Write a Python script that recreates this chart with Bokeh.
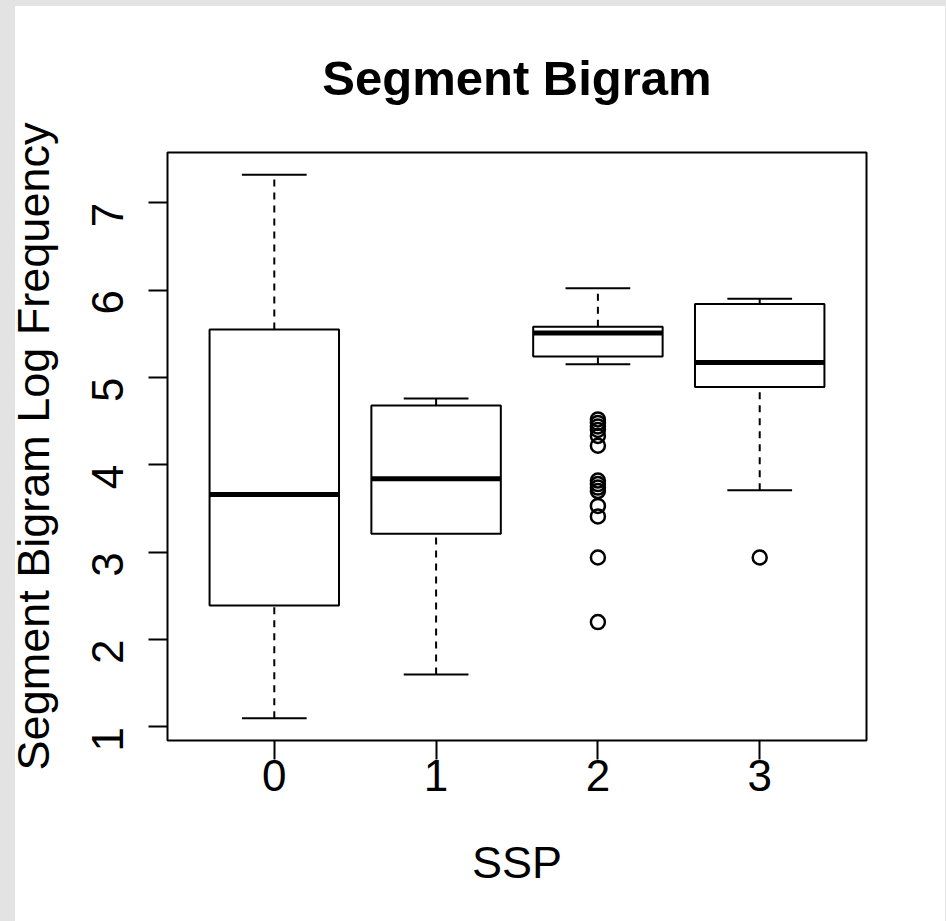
import math
from bokeh.plotting import figure
from bokeh.models import FixedTicker, Range1d
from bokeh.embed import file_html
from bokeh.resources import INLINE

# ---- data ----
groups = ["0", "1", "2", "3"]
positions = [1, 2, 3, 4]
lower_whisker = [1.10, 1.60, 5.15, 3.71]
q1 = [2.39, 3.21, 5.24, 4.89]
median = [3.66, 3.84, 5.51, 5.17]
q3 = [5.55, 4.68, 5.58, 5.84]
upper_whisker = [7.32, 4.76, 6.02, 5.90]
outliers_group2 = [4.52, 4.48, 4.44, 4.40, 4.33, 4.22, 3.82, 3.78, 3.74, 3.70, 3.53, 3.41, 2.94, 2.20]
outliers_group3 = [2.94]
y_ticks = [1, 2, 3, 4, 5, 6, 7]

FONT = "Liberation Sans"
BOX_HALF = 0.4
CAP_HALF = 0.2

p = figure(width=946, height=921, output_backend="svg", toolbar_location=None,
           x_range=Range1d(0.34, 4.66), y_range=Range1d(0.845, 7.575),
           title="Segment Bigram",
           min_border_left=167, min_border_right=80, min_border_top=152, min_border_bottom=181)
p.background_fill_color = "white"
p.border_fill_color = "white"
p.border_fill_alpha = 0.0
p.outline_line_color = "black"
p.outline_line_width = 2
p.xgrid.visible = False
p.ygrid.visible = False

p.title.text_font = FONT
p.title.text_font_size = "49px"
p.title.text_font_style = "bold"
p.title.align = "center"
p.title.text_color = "black"
p.title.standoff = 96

# axes
for ax in (p.xaxis[0], p.yaxis[0]):
    ax.axis_line_color = None
    ax.major_tick_line_color = "black"
    ax.major_tick_line_width = 2
    ax.major_tick_out = 19
    ax.major_tick_in = 0
    ax.minor_tick_line_color = None
    ax.major_label_text_font = FONT
    ax.major_label_text_font_size = "44px"
    ax.major_label_text_color = "black"
    ax.axis_label_text_font = FONT
    ax.axis_label_text_font_size = "45px"
    ax.axis_label_text_font_style = "normal"
    ax.axis_label_text_color = "black"

p.xaxis.ticker = FixedTicker(ticks=positions)
p.xaxis.major_label_overrides = {pos: g for pos, g in zip(positions, groups)}
p.xaxis.axis_label = "SSP"
p.xaxis.major_label_standoff = 0
p.xaxis.axis_label_standoff = 43

p.yaxis.ticker = FixedTicker(ticks=y_ticks)
p.yaxis.major_label_orientation = math.pi / 2
p.yaxis.axis_label = "Segment Bigram Log Frequency"
p.yaxis.major_label_standoff = 41
p.yaxis.axis_label_standoff = 15

# whiskers (dashed)
p.segment(x0=positions, y0=q3, x1=positions, y1=upper_whisker,
          line_color="black", line_width=2, line_dash="7 6")
p.segment(x0=positions, y0=lower_whisker, x1=positions, y1=q1,
          line_color="black", line_width=2, line_dash="7 6")
# caps
p.segment(x0=[x - CAP_HALF for x in positions], y0=upper_whisker,
          x1=[x + CAP_HALF for x in positions], y1=upper_whisker,
          line_color="black", line_width=2)
p.segment(x0=[x - CAP_HALF for x in positions], y0=lower_whisker,
          x1=[x + CAP_HALF for x in positions], y1=lower_whisker,
          line_color="black", line_width=2)
# boxes
p.quad(left=[x - BOX_HALF for x in positions], right=[x + BOX_HALF for x in positions],
       bottom=q1, top=q3, fill_color="white", line_color="black", line_width=2)
# medians
p.segment(x0=[x - BOX_HALF for x in positions], y0=median,
          x1=[x + BOX_HALF for x in positions], y1=median,
          line_color="black", line_width=5)
# outliers
ox = [positions[2]] * len(outliers_group2) + [positions[3]] * len(outliers_group3)
oy = outliers_group2 + outliers_group3
p.scatter(x=ox, y=oy, marker="circle", size=14, fill_color=None,
          line_color="black", line_width=2.5)

page_css = ("<style>html,body{margin:0;padding:0;}"
            "body{background:"
            "linear-gradient(to right,#e3e3e3 15px,transparent 15px),"
            "linear-gradient(to left,#e3e3e3 1px,transparent 1px),"
            "linear-gradient(to bottom,#e3e3e3 6px,#ffffff 6px);"
            "background-repeat:no-repeat;min-height:921px;}</style>")
html = file_html(p, INLINE)
html = html.replace("<head>", "<head>" + page_css, 1)
open("out.html", "w").write(html)
